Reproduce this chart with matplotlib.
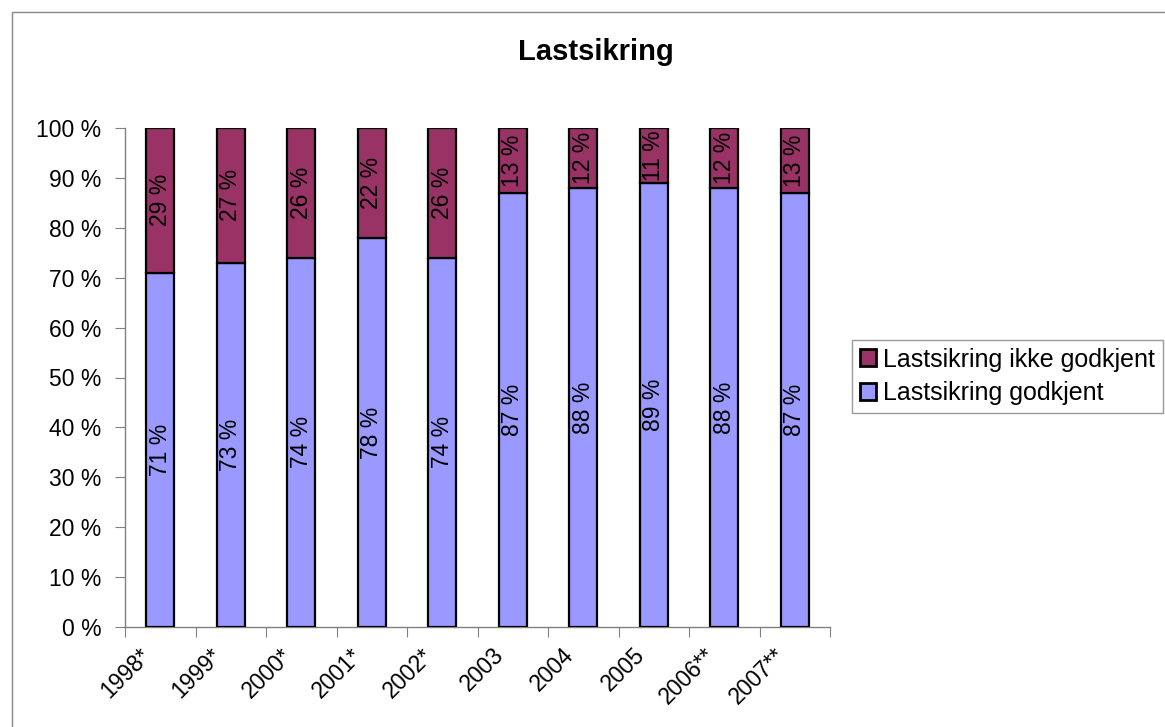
import matplotlib
matplotlib.use("Agg")
import matplotlib.pyplot as plt
from matplotlib.patches import Rectangle
import matplotlib.transforms as mtransforms

categories = ["1998*", "1999*", "2000*", "2001*", "2002*", "2003", "2004", "2005", "2006**", "2007**"]
godkjent = [71, 73, 74, 78, 74, 87, 88, 89, 88, 87]
ikke_godkjent = [29, 27, 26, 22, 26, 13, 12, 11, 12, 13]
yticks = list(range(0, 101, 10))

plt.rcParams['font.family'] = ['Liberation Sans', 'DejaVu Sans']

fig = plt.figure(figsize=(11.65, 7.27), dpi=100)
# outer chart frame
fig.patches.append(Rectangle((12/1165, -0.01), 1.1, 1 - 12/727 + 0.01, transform=fig.transFigure,
                             fill=False, edgecolor='#888888', lw=1.0))

ax = fig.add_axes([125/1165, 1 - 627/727, 705/1165, 499/727])
x = list(range(len(categories)))
w = 0.4
b1 = ax.bar(x, godkjent, width=w, color='#9999FF', edgecolor='black', lw=1.6,
            label='Lastsikring godkjent', zorder=3)
b2 = ax.bar(x, ikke_godkjent, width=w, bottom=godkjent, color='#993366', edgecolor='black', lw=1.6,
            label='Lastsikring ikke godkjent', zorder=3)

for xi, g, n in zip(x, godkjent, ikke_godkjent):
    ax.text(xi, g / 2, f"{g} %", rotation=90, ha='center', va='center', fontsize=16.5, color='black', zorder=4)
    ax.text(xi, g + n / 2, f"{n} %", rotation=90, ha='center', va='center', fontsize=16.5, color='black', zorder=4)

ax.set_xlim(-0.5, len(categories) - 0.5)
ax.set_ylim(0, 100)
ax.set_yticks(yticks)
ax.set_yticklabels([f"{v} %" for v in yticks], fontsize=16.5)
ax.set_xticks([i - 0.5 for i in range(len(categories) + 1)])
ax.set_xticklabels([])
ax.set_xticks(x, minor=True)
ax.set_xticklabels(categories, minor=True, rotation=45, ha='right', rotation_mode='anchor', fontsize=16.5)
ax.tick_params(axis='x', which='minor', length=0, pad=12)
ax.tick_params(axis='x', which='major', length=7, color='#808080', direction='out')
ax.tick_params(axis='y', length=7, color='#808080', direction='out', pad=10)
offset = mtransforms.ScaledTranslation(-21/100, 0, fig.dpi_scale_trans)
for lbl in ax.get_xticklabels(minor=True):
    lbl.set_transform(lbl.get_transform() + offset)

for s in ['top', 'right']:
    ax.spines[s].set_visible(False)
for s in ['left', 'bottom']:
    ax.spines[s].set_color('#808080')
    ax.spines[s].set_linewidth(1.0)

fig.text(596/1165, 1 - 52/727, "Lastsikring", ha='center', va='center', fontsize=21, fontweight='bold')

leg = fig.legend(handles=[b2, b1], labels=['Lastsikring ikke godkjent', 'Lastsikring godkjent'],
                 loc='upper left', bbox_to_anchor=(852/1165, 1 - 340/727), fontsize=18,
                 frameon=True, fancybox=False, edgecolor='#808080', borderpad=0.3,
                 handlelength=0.65, handleheight=0.65, handletextpad=0.3, labelspacing=0.38,
                 borderaxespad=0)
leg.get_frame().set_linewidth(1.0)
for h in leg.legend_handles:
    h.set_linewidth(2.0)

fig.savefig("out.png", dpi=100)
